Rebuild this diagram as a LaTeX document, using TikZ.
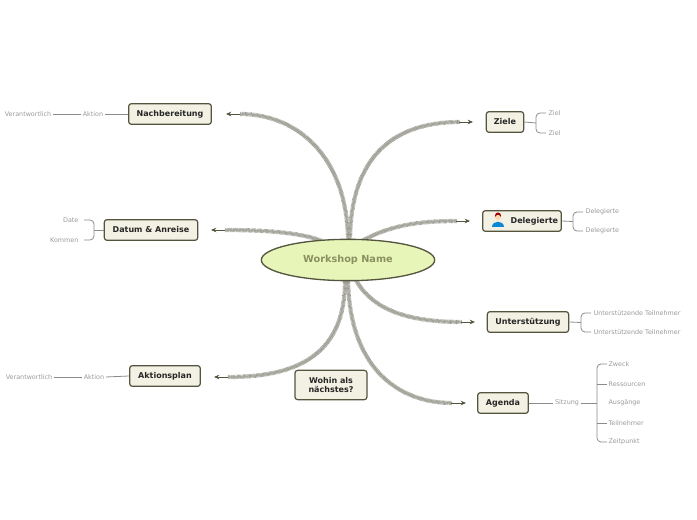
\documentclass[tikz,border=0pt]{standalone}
\usepackage{fontspec}
\setmainfont{DejaVu Sans}
\usetikzlibrary{arrows.meta,shapes.geometric}
\definecolor{boxfill}{HTML}{F3F1E3}
\definecolor{boxdraw}{HTML}{55553F}
\definecolor{leaf}{HTML}{9A9A9A}
\definecolor{hatch}{HTML}{9A9A90}
\definecolor{cfill}{HTML}{E8F5B8}
\definecolor{ctext}{HTML}{8A9060}
\begin{document}
\begin{tikzpicture}[x=0.75pt,y=-0.75pt,
  topic/.style={draw=boxdraw,fill=boxfill,line width=0.9pt,rounded corners=2pt,font=\bfseries\fontsize{6}{7}\selectfont,text=black!85,inner sep=0pt,minimum height=15.5pt},
  lf/.style={font=\fontsize{4.8}{5.5}\selectfont,text=leaf,inner sep=1pt},
  band/.style={draw=hatch,line width=3.2pt,dash pattern=on 0.45pt off 0.45pt},
  band2/.style={draw=hatch!60,line width=1.6pt},
  tip/.style={draw=boxdraw,line width=0.7pt,-{Stealth[open,length=4pt,width=3.5pt]}},
  sub/.style={draw=leaf!90!black,line width=0.6pt}]
\useasboundingbox (0,0) rectangle (697,520);
% connectors
\foreach \a/\b/\c/\d in {
 {(348,242)}/{(348,160)}/{(300,114)}/{(240,114)},
 {(322,241)}/{(300,232)}/{(260,230)}/{(225,230)},
 {(350,242)}/{(350,150)}/{(400,122)}/{(460,122)},
 {(362,241)}/{(390,225)}/{(420,221)}/{(457,221)},
 {(356,280)}/{(375,315)}/{(420,322)}/{(462,322)},
 {(348,281)}/{(350,370)}/{(400,403)}/{(452,403)},
 {(345,281)}/{(345,360)}/{(290,377)}/{(228,377)}}{
 \draw[band2] \a .. controls \b and \c .. \d;
 \draw[band] \a .. controls \b and \c .. \d;}
\coordinate (t1a) at (240,114); \coordinate (t1b) at (226,114);
\coordinate (t2a) at (225,230); \coordinate (t2b) at (211,230);
\coordinate (t3a) at (459,122); \coordinate (t3b) at (473,122);
\coordinate (t4a) at (456,221); \coordinate (t4b) at (470,221);
\coordinate (t5a) at (461,322); \coordinate (t5b) at (475,322);
\coordinate (t6a) at (451,403); \coordinate (t6b) at (466,403);
\coordinate (t7a) at (228,377); \coordinate (t7b) at (214,377);
\foreach \i in {1,...,7}{\draw[tip] (t\i a) -- (t\i b);}
% center
\node[ellipse,draw=boxdraw,fill=cfill,line width=1pt,minimum width=130pt,minimum height=31pt,inner sep=0pt,font=\bfseries\fontsize{7.3}{8}\selectfont,text=ctext] (c) at (348,260) {Workshop Name};
% topics
\node[topic,minimum width=62pt] (nb) at (170,114) {Nachbereitung};
\node[topic,minimum width=70pt] (da) at (151,230) {Datum \& Anreise};
\node[topic,minimum width=53pt] (ak) at (165,376) {Aktionsplan};
\node[topic,minimum width=54pt,minimum height=22pt,align=center,font=\bfseries\fontsize{6}{7}\selectfont] (wo) at (331,385) {Wohin als\\nächstes?};
\node[topic,minimum width=28pt] (zi) at (505,122) {Ziele};
\node[topic,minimum width=59pt,text width=54pt,align=right] (de) at (522,221) {Delegierte};
\node[topic,minimum width=61pt] (un) at (528,322) {Unterstützung};
\node[topic,minimum width=38pt] (ag) at (503,403) {Agenda};
% icon
\fill[red!60!black] (498,215.5) circle (3);
\fill[orange!30] (498,217.5) circle (2.6);
\fill[cyan!70!blue] (492,227) .. controls (492,220) and (504,220) .. (504,227) -- cycle;
% left leaves
\node[lf] (nba) at (93,114) {Aktion};
\node[lf] (nbv) at (28,114) {Verantwortlich};
\draw[sub] (nb.west) -- (nba.east); \draw[sub] (nba.west) -- (nbv.east);
\node[lf] (aka) at (94,377) {Aktion};
\node[lf] (akv) at (29,377) {Verantwortlich};
\draw[sub] (ak.west) -- (aka.east); \draw[sub] (aka.west) -- (akv.east);
\node[lf,anchor=east] (d1) at (80,220) {Date};
\node[lf,anchor=east] (d2) at (80,240) {Kommen};
\draw[sub] (da.west) -- (94,230);
\draw[sub,rounded corners=3pt] (84,220) -- (94,220) -- (94,240) -- (84,240);
% right brackets
\newcommand{\brk}[4]{% parent node, x, ytop, ybot
 \draw[sub] (#1.east) -- (#2,{(#3+#4)/2});
 \draw[sub,rounded corners=3pt] (#2+10,#3) -- (#2,#3) -- (#2,#4) -- (#2+10,#4);}
\brk{zi}{536}{113}{133}
\node[lf,anchor=west] (z1) at (547,113) {Ziel};
\node[lf,anchor=west] (z2) at (547,133) {Ziel};
\brk{de}{573}{212}{231}
\node[lf,anchor=west] (e1) at (584,212) {Delegierte};
\node[lf,anchor=west] (e2) at (584,231) {Delegierte};
\brk{un}{581}{313}{332}
\node[lf,anchor=west] (u1) at (592,313) {Unterstützende Teilnehmer};
\node[lf,anchor=west] (u2) at (592,332) {Unterstützende Teilnehmer};
\node[lf] (si) at (567,403) {Sitzung};
\draw[sub] (ag.east) -- (si.west);
\brk{si}{597}{364}{442}
\draw[sub] (597,384) -- (607,384); \draw[sub] (597,423) -- (607,423);
\node[lf,anchor=west] at (607,364) {Zweck};
\node[lf,anchor=west] at (607,384) {Ressourcen};
\node[lf,anchor=west] at (607,403) {Ausgänge};
\node[lf,anchor=west] at (607,423) {Teilnehmer};
\node[lf,anchor=west] at (607,442) {Zeitpunkt};
\end{tikzpicture}
\end{document}
